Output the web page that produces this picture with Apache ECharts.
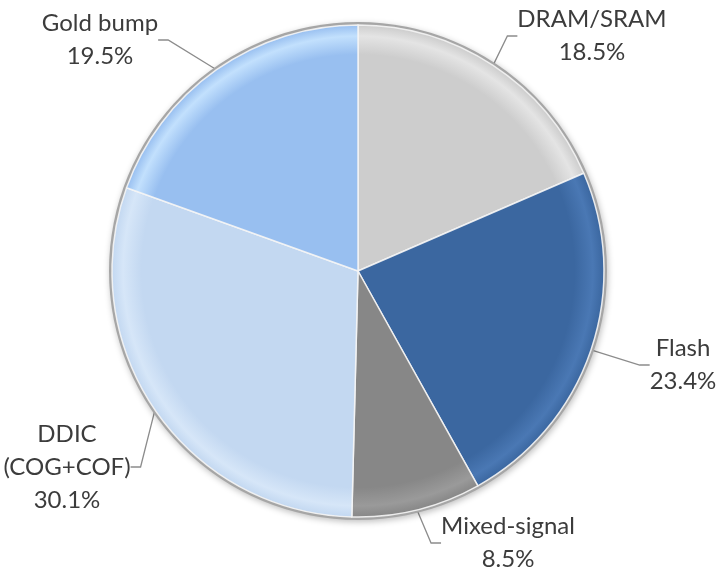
<!DOCTYPE html>
<html>
<head>
<meta charset="utf-8">
<title>Market share by segment</title>
<script src="https://cdn.jsdelivr.net/npm/echarts@6/dist/echarts.min.js"></script>
<style>
  html, body { margin: 0; padding: 0; background: #ffffff; }
  #chart { width: 723px; height: 575px; }
</style>
</head>
<body>
<div id="chart"></div>
<script>
// Segment names (clockwise from 12 o'clock) and their shares in percent
const categories = ['DRAM/SRAM', 'Flash', 'Mixed-signal', 'DDIC\n(COG+COF)', 'Gold bump'];
const shares = [18.5, 23.4, 8.5, 30.1, 19.5];

// Slice fills: [inner tone, rim highlight]
const sliceColors = [
  ['#cdcdcd', '#e4e4e4'],
  ['#3b67a0', '#4a78b4'],
  ['#878787', '#9a9a9a'],
  ['#c3d8f1', '#d6e6f8'],
  ['#98bff0', '#c2e0fd']
];

// Label block centres
const labelPos = [
  [592, 36],
  [683, 365],
  [508, 543],
  [67, 467],
  [100, 40]
];

const CX = 358, CY = 271, R = 246;

function sliceFill(i) {
  const c = sliceColors[i];
  return {
    type: 'radial', x: CX, y: CY, r: R, global: true,
    colorStops: [
      { offset: 0, color: c[0] },
      { offset: 0.88, color: c[0] },
      { offset: 0.955, color: c[1] },
      { offset: 1, color: c[0] }
    ]
  };
}

const chart = echarts.init(document.getElementById('chart'), null, { renderer: 'canvas' });

chart.setOption({
  backgroundColor: '#ffffff',
  animation: false,
  series: [
    {
      // grey rim behind the pie
      type: 'pie',
      silent: true,
      center: [CX, CY],
      radius: [0, R + 3],
      label: { show: false },
      labelLine: { show: false },
      itemStyle: {
        color: '#a6a6a6',
        shadowBlur: 6,
        shadowColor: 'rgba(0,0,0,0.25)',
        shadowOffsetX: 1,
        shadowOffsetY: 2
      },
      data: [{ value: 1 }]
    },
    {
      type: 'pie',
      center: [CX, CY],
      radius: [0, R],
      startAngle: 90,
      clockwise: true,
      data: categories.map((name, i) => ({
        name: name,
        value: shares[i],
        itemStyle: { color: sliceFill(i) }
      })),
      itemStyle: {
        borderColor: 'rgba(245,245,245,0.9)',
        borderWidth: 1.5
      },
      label: {
        show: true,
        position: 'outside',
        formatter: p => p.name + '\n' + p.value.toFixed(1) + '%',
        fontFamily: 'Lato',
        fontSize: 24,
        lineHeight: 33,
        color: '#3c3c3c',
        align: 'center',
        overflow: 'none'
      },
      labelLine: {
        show: true,
        length: 15,
        length2: 10,
        lineStyle: { color: '#8c8c8c', width: 1.3 }
      },
      labelLayout: function (params) {
        const p = labelPos[params.dataIndex];
        return { x: p[0], y: p[1], align: 'center', verticalAlign: 'middle' };
      }
    }
  ]
});
</script>
</body>
</html>
